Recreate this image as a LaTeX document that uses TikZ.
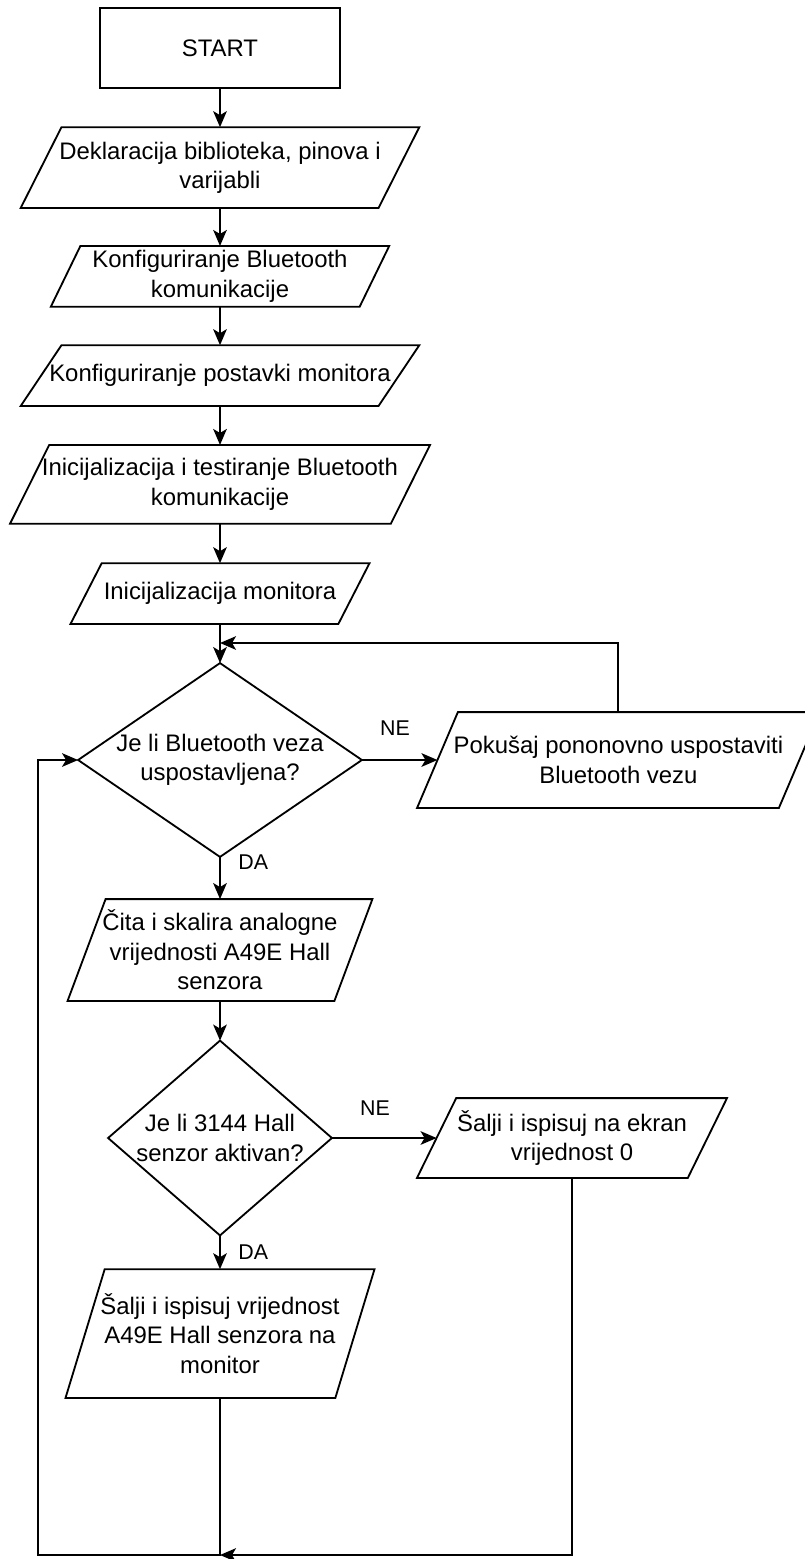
\documentclass[tikz,border=0pt]{standalone}
\usepackage{fontspec}
\setmainfont{Liberation Sans}
\usetikzlibrary{arrows.meta}

\begin{document}
\begin{tikzpicture}[line width=1.3pt, font=\fontsize{17}{21}\selectfont,
		arr/.style={-{Stealth[length=0.4cm, width=0.34cm, inset=0.1cm]}},
		proc/.style={rectangle, draw, minimum width=6cm, minimum height=2cm},
		io/.style={rectangle, align=center, inner sep=0pt},
		dec/.style={rectangle, align=center, inner sep=0pt},
		lbl/.style={inner sep=1pt, font=\fontsize{15.2}{18}\selectfont}]
	\useasboundingbox (0,0) rectangle (20.125,-38.975);

	\node[proc](start) at (5.5,-1.2){START};
	\node[io, minimum width=8.9cm, minimum height=1.975cm](dek) at (5.5,-4.19){Deklaracija biblioteka, pinova i\\varijabli};
	\node[io, minimum width=7.675cm, minimum height=1.475cm](btconf) at (5.5,-6.91){Konfiguriranje Bluetooth\\komunikacije};
	\node[io, minimum width=8.9cm, minimum height=1.475cm](monconf) at (5.5,-9.39){Konfiguriranje postavki monitora};
	\node[io, minimum width=9.475cm, minimum height=1.925cm](btinit) at (5.5,-12.11){Inicijalizacija i testiranje Bluetooth\\komunikacije};
	\node[io, minimum width=6.65cm, minimum height=1.475cm](moninit) at (5.5,-14.84){Inicijalizacija monitora};
	\node[dec, minimum width=7.05cm, minimum height=4.8cm](btcheck) at (5.5,-19){Je li Bluetooth veza\\uspostavljena?};
	\node[io, minimum width=9cm, minimum height=2.35cm](retry) at (15.46,-19){Pokušaj pononovno uspostaviti\\Bluetooth vezu};
	\node[io, minimum width=6.625cm, minimum height=2.5cm](read) at (5.5,-23.75){Čita i skalira analogne\\vrijednosti A49E Hall\\senzora};
	\node[dec, minimum width=5.55cm, minimum height=4.825cm](hallcheck) at (5.5,-28.45){Je li 3144 Hall\\senzor aktivan?};
	\node[io, minimum width=6.725cm, minimum height=1.95cm](sendzero) at (14.3,-28.45){Šalji i ispisuj na ekran\\vrijednost 0};
	\node[io, minimum width=6.7cm, minimum height=3.175cm](sendval) at (5.5,-33.34){Šalji i ispisuj vrijednost\\A49E Hall senzora na\\monitor};

	\foreach \n/\s in {dek/0.51cm, btconf/0.37cm, monconf/0.51cm, btinit/0.49cm, moninit/0.39cm, retry/0.51cm, read/0.475cm, sendzero/0.49cm, sendval/0.49cm}
		\draw ([xshift=\s]\n.north west) -- ([xshift=\s]\n.north east) -- ([xshift=-\s]\n.south east) -- ([xshift=-\s]\n.south west) -- cycle;
	\foreach \n in {btcheck, hallcheck}
		\draw (\n.north) -- (\n.east) -- (\n.south) -- (\n.west) -- cycle;

	\node[lbl](ne1) at (9.875,-18.2){NE};
	\node[lbl](ne2) at (9.375,-27.7){NE};
	\node[lbl, anchor=west](da1) at (5.9,-21.55){DA};
	\node[lbl, anchor=west](da2) at (5.9,-31.3){DA};

	\coordinate (loopin) at (5.5,-16.075);
	\coordinate (botmid) at (5.5,-38.875);
	\coordinate (botleft) at (0.95,-38.875);

	\draw[arr](start.south) -- (dek.north);
	\draw[arr](dek.south) -- (btconf.north);
	\draw[arr](btconf.south) -- (monconf.north);
	\draw[arr](monconf.south) -- (btinit.north);
	\draw[arr](btinit.south) -- (moninit.north);
	\draw[arr](moninit.south) -- (btcheck.north);
	\draw[arr](btcheck.east) -- (retry.west);
	\draw[arr](retry.north) |- (loopin);
	\draw[arr](btcheck.south) -- (read.north);
	\draw[arr](read.south) -- (hallcheck.north);
	\draw[arr](hallcheck.east) -- (sendzero.west);
	\draw[arr](hallcheck.south) -- (sendval.north);
	\draw[arr](sendzero.south) |- (botmid);
	\draw[arr](sendval.south) -- (botmid) -- (botleft) |- (btcheck.west);
\end{tikzpicture}
\end{document}
